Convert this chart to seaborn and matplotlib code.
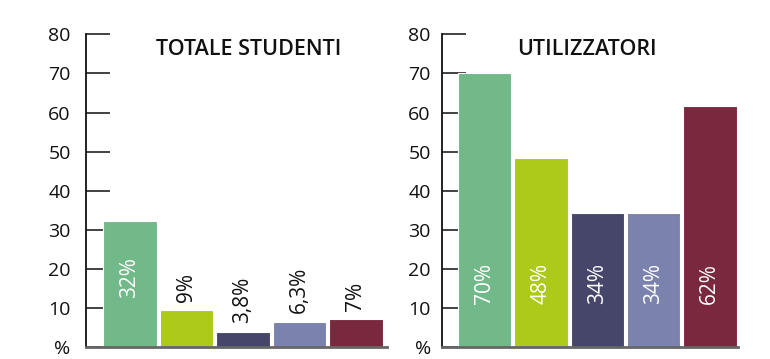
import matplotlib
matplotlib.use("Agg")
import matplotlib.pyplot as plt
import matplotlib.transforms as mtransforms
import seaborn as sns

sns.set_theme(style="white")
plt.rcParams['font.family'] = ['Open Sans', 'DejaVu Sans']

categories = ["c1", "c2", "c3", "c4", "c5"]
colors = ["#72B98A", "#ADCA1B", "#45466A", "#7C82AE", "#7A283E"]

titles = ["TOTALE STUDENTI", "UTILIZZATORI"]
values_totale = [32.3, 9.5, 4.0, 6.5, 7.2]
labels_totale = ["32%", "9%", "3,8%", "6,3%", "7%"]
values_utiliz = [70.2, 48.5, 34.4, 34.3, 61.8]
labels_utiliz = ["70%", "48%", "34%", "34%", "62%"]

yticks = [0, 10, 20, 30, 40, 50, 60, 70, 80]
ytick_labels = ["%", "10", "20", "30", "40", "50", "60", "70", "80"]

fig = plt.figure(figsize=(7.7, 3.59), dpi=100)
ax1 = fig.add_axes([0.1117, 0.0323, 0.3909, 0.8722])
ax2 = fig.add_axes([0.5740, 0.0323, 0.3844, 0.8722])

panels = [
    (ax1, values_totale, labels_totale, titles[0], 0.54, -0.78, 4.55, 11),
    (ax2, values_utiliz, labels_utiliz, titles[1], 0.49, -0.76, 4.5, 8),
]

for ax, vals, labs, title, tx, xl, xr, pad in panels:
    sns.barplot(x=categories, y=vals, hue=categories, palette=colors,
                saturation=1, width=0.95, edgecolor="white", linewidth=0.8,
                legend=False, ax=ax, zorder=2)
    ax.set_xlim(xl, xr)
    ax.set_ylim(0, 80)
    ax.set_axisbelow(True)
    ax.set_yticks(yticks)
    ax.set_yticklabels(ytick_labels)
    ax.set_xticks([])
    ax.set_xlabel("")
    ax.set_ylabel("")
    ax.tick_params(axis="y", direction="in", length=17, width=1.2,
                   color="#222222", labelsize=14, pad=pad, left=True,
                   labelcolor="#111111")
    for s in ["top", "right"]:
        ax.spines[s].set_visible(False)
    ax.spines["left"].set_color("#111111")
    ax.spines["left"].set_linewidth(1.3)
    ax.spines["bottom"].set_color("#666666")
    ax.spines["bottom"].set_linewidth(2)
    trans = mtransforms.blended_transform_factory(ax.transAxes, ax.transData)
    ax.text(tx, 74.8, title, transform=trans,
            ha="center", va="baseline", fontsize=15.5, fontweight="semibold",
            color="#111111")

# value labels
for i, (v, lab) in enumerate(zip(values_totale, labels_totale)):
    if v > 20:
        ax1.text(i, 12.5, lab, rotation=90, ha="center", va="bottom",
                 color="white", fontsize=15)
    else:
        ax1.text(i, v + 2.2, lab, rotation=90, ha="center", va="bottom",
                 color="#111111", fontsize=15)

for i, (v, lab) in enumerate(zip(values_utiliz, labels_utiliz)):
    ax2.text(i, 11, lab, rotation=90, ha="center", va="bottom",
             color="white", fontsize=15)

fig.savefig("out.png", dpi=100)
